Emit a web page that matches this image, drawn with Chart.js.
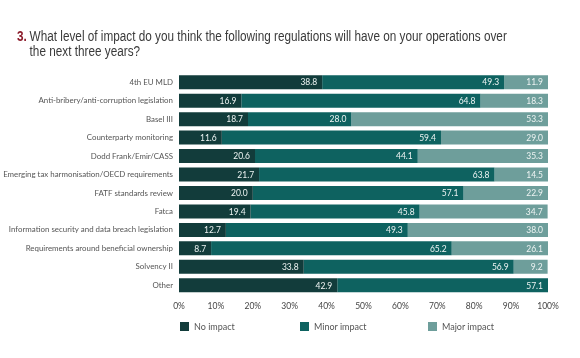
<!DOCTYPE html>
<html>
<head>
<meta charset="utf-8">
<script src="https://cdn.jsdelivr.net/npm/chart.js@4/dist/chart.umd.min.js"></script>
<style>
    body { margin: 0; background: #fff; }
    #wrap { position: relative; width: 580px; height: 358px; }
    #title {
        position: absolute; left: 17px; top: 29px; white-space: nowrap;
        font-family: "Liberation Sans", Arial, sans-serif;
        font-size: 14px; line-height: 15px; color: #3a3a3a;
        transform: scaleX(0.84); transform-origin: left top;
    }
    #title .num { color: #8c1c2b; font-weight: bold; display: inline-block; width: 15px; }
    #title .indent { display: inline-block; width: 15px; }
    #legend { position: absolute; left: 180px; top: 321px; display: flex;
        font-family: "Lato", sans-serif; font-size: 9px; color: #555; }
    #legend div { display: flex; align-items: center; }
    #legend span.box { width: 9px; height: 9px; margin-right: 5px; display: inline-block; }
</style>
</head>
<body>
<div id="wrap">
    <div id="title"><span class="num">3.</span>What level of impact do you think the following regulations will have on your operations over<br><span class="indent"></span>the next three years?</div>
    <canvas id="impactChart" width="580" height="358"></canvas>
    <div id="legend"></div>
</div>
<script>
const categories = [
    "4th EU MLD",
    "Anti-bribery/anti-corruption legislation",
    "Basel III",
    "Counterparty monitoring",
    "Dodd Frank/Emir/CASS",
    "Emerging tax harmonisation/OECD requirements",
    "FATF standards review",
    "Fatca",
    "Information security and data breach legislation",
    "Requirements around beneficial ownership",
    "Solvency II",
    "Other"
];
const noImpact = [38.8, 16.9, 18.7, 11.6, 20.6, 21.7, 20.0, 19.4, 12.7, 8.7, 33.8, 42.9];
const minorImpact = [49.3, 64.8, 28.0, 59.4, 44.1, 63.8, 57.1, 45.8, 49.3, 65.2, 56.9, 57.1];
const majorImpact = [11.9, 18.3, 53.3, 29.0, 35.3, 14.5, 22.9, 34.7, 38.0, 26.1, 9.2, null];
const xTicks = [0, 10, 20, 30, 40, 50, 60, 70, 80, 90, 100];

// value labels drawn at the right end of every segment
const segmentLabels = {
    id: "segmentLabels",
    afterDatasetsDraw(chart) {
        const ctx = chart.ctx;
        ctx.save();
        ctx.font = "8.5px Lato";
        ctx.fillStyle = "#eef4f3";
        ctx.textAlign = "right";
        ctx.textBaseline = "middle";
        chart.data.datasets.forEach((ds, i) => {
            chart.getDatasetMeta(i).data.forEach((bar, j) => {
                if (ds.data[j] == null) return;
                ctx.fillText(ds.data[j].toFixed(1), bar.x - 5, bar.y + 0.5);
            });
        });
        ctx.restore();
    }
};

const ctx = document.getElementById("impactChart").getContext("2d");
const chart = new Chart(ctx, {
    type: "bar",
    data: {
        labels: categories,
        datasets: [
            { label: "No impact", data: noImpact, backgroundColor: "#123c3b" },
            { label: "Minor impact", data: minorImpact, backgroundColor: "#0e6260" },
            { label: "Major impact", data: majorImpact, backgroundColor: "#6e9e9b" }
        ]
    },
    options: {
        indexAxis: "y",
        responsive: false,
        animation: false,
        categoryPercentage: 0.76,
        barPercentage: 1,
        layout: { padding: { top: 73, right: 32, bottom: 43.5, left: 0 } },
        plugins: {
            legend: { display: false },
            tooltip: { enabled: false }
        },
        scales: {
            x: {
                stacked: true,
                min: 0,
                max: 100,
                afterBuildTicks: (s) => { s.ticks = xTicks.map(v => ({ value: v })); },
                afterFit: (s) => { s.height = 20; },
                grid: { display: false, drawTicks: false },
                border: { display: false },
                ticks: {
                    padding: 7,
                    color: "#444",
                    font: { family: "Lato", size: 8.5 },
                    callback: (v) => v + "%"
                }
            },
            y: {
                stacked: true,
                afterFit: (s) => { s.width = 179; },
                grid: { display: false, drawTicks: false },
                border: { display: false },
                ticks: {
                    padding: 6,
                    color: "#555",
                    font: { family: "Lato", size: 7.9 }
                }
            }
        }
    },
    plugins: [segmentLabels]
});

// legend built from the datasets
const legendWidths = [120, 128, 120];
const legend = document.getElementById("legend");
chart.data.datasets.forEach((ds, i) => {
    const item = document.createElement("div");
    item.style.width = legendWidths[i] + "px";
    item.innerHTML = '<span class="box" style="background:' + ds.backgroundColor + '"></span>' + ds.label;
    legend.appendChild(item);
});
</script>
</body>
</html>
